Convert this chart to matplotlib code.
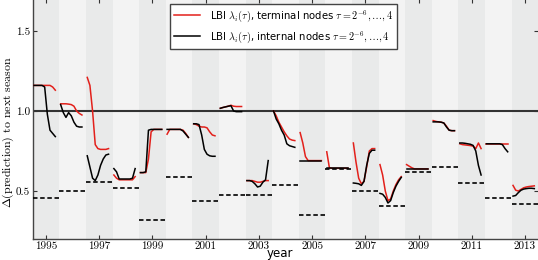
import matplotlib
matplotlib.use("Agg")
import matplotlib.pyplot as plt
import numpy as np

plt.rcParams["mathtext.fontset"] = "cm"
plt.rcParams["font.family"] = "DejaVu Sans"

SEASONS = list(range(1995, 2014))

# baseline (dashed) per season
BASELINE = [0.458, 0.498, 0.554, 0.519, 0.321, 0.590, 0.440, 0.475, 0.478,
            0.535, 0.352, 0.640, 0.502, 0.404, 0.621, 0.648, 0.548, 0.454, 0.419]

# LBI terminal nodes, tau = 2^-6 ... 4
TERMINAL = [
    [1.16, 1.16, 1.16, 1.16, 1.16, 1.16, 1.16, 1.15, 1.13],
    [1.045, 1.045, 1.045, 1.043, 1.04, 1.03, 1.0, 0.985, 0.975],
    [1.21, 1.16, 1.0, 0.79, 0.765, 0.76, 0.76, 0.76, 0.765],
    [0.60, 0.58, 0.57, 0.57, 0.57, 0.57, 0.57, 0.57, 0.59],
    [0.615, 0.615, 0.615, 0.70, 0.87, 0.885, 0.885, 0.885, 0.885],
    [0.855, 0.885, 0.885, 0.885, 0.885, 0.885, 0.88, 0.86, 0.835],
    [0.92, 0.915, 0.905, 0.90, 0.90, 0.895, 0.87, 0.85, 0.845],
    [1.017, 1.022, 1.026, 1.03, 1.036, 1.03, 1.028, 1.028, 1.028],
    [0.565, 0.565, 0.565, 0.56, 0.555, 0.555, 0.56, 0.565, 0.565],
    [1.0, 0.97, 0.93, 0.90, 0.87, 0.845, 0.825, 0.818, 0.815],
    [0.865, 0.80, 0.715, 0.69, 0.69, 0.69, 0.69, 0.69, 0.69],
    [0.745, 0.645, 0.642, 0.642, 0.642, 0.642, 0.642, 0.642, 0.642],
    [0.80, 0.68, 0.58, 0.545, 0.56, 0.65, 0.75, 0.765, 0.765],
    [0.665, 0.60, 0.50, 0.44, 0.45, 0.50, 0.54, 0.57, 0.59],
    [0.665, 0.655, 0.645, 0.638, 0.638, 0.638, 0.638, 0.638, 0.638],
    [0.94, 0.935, 0.932, 0.93, 0.925, 0.905, 0.88, 0.877, 0.877],
    [0.795, 0.79, 0.788, 0.786, 0.784, 0.78, 0.765, 0.80, 0.765],
    [0.795, 0.795, 0.795, 0.795, 0.795, 0.795, 0.795, 0.795, 0.795],
    [0.535, 0.505, 0.50, 0.51, 0.52, 0.525, 0.528, 0.53, 0.532],
]

# LBI internal nodes, tau = 2^-6 ... 4
INTERNAL = [
    [1.16, 1.16, 1.16, 1.16, 1.15, 0.98, 0.88, 0.86, 0.84],
    [1.04, 0.99, 0.96, 0.99, 0.97, 0.93, 0.905, 0.90, 0.90],
    [0.72, 0.65, 0.58, 0.565, 0.60, 0.66, 0.70, 0.725, 0.73],
    [0.64, 0.62, 0.575, 0.575, 0.575, 0.575, 0.575, 0.58, 0.64],
    [0.615, 0.615, 0.62, 0.88, 0.885, 0.885, 0.885, 0.885, 0.885],
    [0.885, 0.885, 0.885, 0.885, 0.885, 0.885, 0.875, 0.855, 0.835],
    [0.92, 0.92, 0.915, 0.85, 0.76, 0.73, 0.72, 0.717, 0.717],
    [1.017, 1.022, 1.026, 1.03, 1.033, 1.0, 0.996, 0.996, 0.996],
    [0.565, 0.565, 0.56, 0.545, 0.525, 0.53, 0.555, 0.57, 0.69],
    [1.0, 0.95, 0.92, 0.88, 0.85, 0.795, 0.783, 0.778, 0.773],
    [0.69, 0.69, 0.69, 0.69, 0.69, 0.69, 0.69, 0.69, 0.69],
    [0.642, 0.642, 0.642, 0.642, 0.642, 0.642, 0.642, 0.642, 0.642],
    [0.55, 0.548, 0.545, 0.535, 0.56, 0.66, 0.735, 0.755, 0.755],
    [0.485, 0.48, 0.46, 0.425, 0.44, 0.49, 0.53, 0.56, 0.585],
    [0.637, 0.637, 0.637, 0.637, 0.637, 0.637, 0.637, 0.637, 0.637],
    [0.932, 0.932, 0.932, 0.93, 0.925, 0.90, 0.88, 0.877, 0.877],
    [0.80, 0.80, 0.798, 0.795, 0.792, 0.785, 0.75, 0.66, 0.60],
    [0.795, 0.795, 0.795, 0.795, 0.795, 0.795, 0.79, 0.765, 0.745],
    [0.468, 0.472, 0.49, 0.505, 0.512, 0.515, 0.517, 0.517, 0.515],
]

RED = "#e3201b"
TAU_OFFSETS = np.linspace(-0.45, 0.35, 9)

fig = plt.figure(figsize=(5.38, 2.6), dpi=100)
ax = fig.add_axes([32.7 / 538, 21 / 260, 505.6 / 538, 240 / 260])

for year in SEASONS:
    color = "#e9eaea" if year % 2 else "#f3f3f3"
    ax.axvspan(year - 0.5, year + 0.5, color=color, lw=0, zorder=0)

ax.axhline(1.0, color="#333333", lw=1.5, zorder=2)

for i, year in enumerate(SEASONS):
    x = year + TAU_OFFSETS
    ax.plot(x, TERMINAL[i], color=RED, lw=1.1, zorder=3,
            label=r"LBI $\lambda_i(\tau)$, terminal nodes $\tau=2^{-6},\ldots,4$" if i == 0 else None)
    ax.plot(x, INTERNAL[i], color="black", lw=1.1, zorder=4,
            label=r"LBI $\lambda_i(\tau)$, internal nodes $\tau=2^{-6},\ldots,4$" if i == 0 else None)
    ax.plot([year - 0.5, year + 0.5], [BASELINE[i], BASELINE[i]], color="black",
            lw=1.2, dashes=(2.7, 1.6), zorder=3)

ax.set_xlim(1994.5, 2013.5)
ax.set_ylim(0.2, 1.7)
ax.set_xticks(range(1995, 2014, 2))
ax.set_yticks([0.5, 1.0, 1.5])
ax.tick_params(direction="in", top=True, right=True, length=3, pad=2,
               labelsize=8, colors="#333333")
for lab in ax.get_xticklabels() + ax.get_yticklabels():
    lab.set_fontfamily("cmr10")
    lab.set_color("black")

for side in ["left", "bottom"]:
    ax.spines[side].set_color("#444444")
    ax.spines[side].set_linewidth(1.0)
for side in ["top", "right"]:
    ax.spines[side].set_visible(False)

ax.set_xlabel("year", fontsize=8.5)
ax.xaxis.set_label_coords((280 - 32.7) / 505.6, -8 / 240)
ax.set_ylabel(r"$\Delta$(prediction) to next season", fontsize=8.6,
              fontfamily="cmr10")
ax.yaxis.set_label_coords(-16.5 / 505.6, 1 - 133 / 240)

leg = ax.legend(loc="upper left", bbox_to_anchor=((170 - 32.7) / 505.6, 1 - 5 / 240),
                fontsize=7.3, frameon=True, fancybox=False, framealpha=1,
                handlelength=2.6, handletextpad=0.9, borderpad=0.4,
                labelspacing=0.5, borderaxespad=0)
leg.get_frame().set_edgecolor("#444444")
leg.get_frame().set_linewidth(1.0)

fig.savefig("out.png", dpi=100)
